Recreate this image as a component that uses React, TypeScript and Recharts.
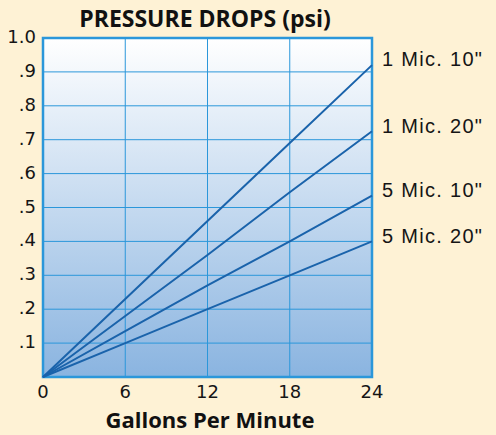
import React from "react"
import { CartesianGrid, Line, LineChart, ReferenceArea, XAxis, YAxis } from "recharts"

// gallons per minute
const gpm = [0, 6, 12, 18, 24]
// pressure drop (psi) at each gpm tick
const mic1in10 = [0, 0.23, 0.46, 0.69, 0.92]
const mic1in20 = [0, 0.18, 0.36, 0.545, 0.725]
const mic5in10 = [0, 0.135, 0.27, 0.4, 0.535]
const mic5in20 = [0, 0.1, 0.2, 0.3, 0.4]

const seriesNames = ['1 Mic. 10"', '1 Mic. 20"', '5 Mic. 10"', '5 Mic. 20"']
const yTicks = [0.1, 0.2, 0.3, 0.4, 0.5, 0.6, 0.7, 0.8, 0.9, 1.0]

const chartData = gpm.map((g, i) => ({
  gpm: g,
  a: mic1in10[i],
  b: mic1in20[i],
  c: mic5in10[i],
  d: mic5in20[i],
}))

const LINE = "#1a63ab"
const GRID = "#2b97da"
const sans = "'Liberation Sans', Arial, sans-serif"
const tickFont = "'DejaVu Sans', sans-serif"
const titleFont = "'Open Sans', sans-serif"

const yFmt = (v: number) => (v >= 1 ? "1.0" : "." + Math.round(v * 10))

function XTick(props: any) {
  const { x, y, payload } = props
  return (
    <text x={x} y={y + 8} textAnchor="middle" dominantBaseline="middle" fontFamily={tickFont} fontSize={18} fill="#151515">
      {payload.value}
    </text>
  )
}

function YTick(props: any) {
  const { x, y, payload } = props
  return (
    <text x={x + 1} y={y} textAnchor="end" dominantBaseline="middle" fontFamily={tickFont} fontSize={18} fill="#151515">
      {yFmt(payload.value)}
    </text>
  )
}

function endLabel(name: string) {
  return (props: any) => {
    if (props.index !== gpm.length - 1) return null
    return (
      <text
        x={props.x + 10}
        y={props.y - 4}
        dominantBaseline="middle"
        fontFamily={sans}
        fontSize={20}
        letterSpacing={1.3}
        fill="#151515"
      >
        {name}
      </text>
    )
  }
}

export default function App() {
  return (
    <div style={{ position: "fixed", left: 0, top: 0, width: 496, height: 435, background: "#fef2d5" }}>
      <LineChart width={496} height={435} data={chartData} margin={{ top: 38, right: 124, bottom: 28, left: 0 }}>
        <defs>
          <linearGradient id="plotBg" x1="0" y1="0" x2="0" y2="1">
            <stop offset="0%" stopColor="#ffffff" />
            <stop offset="100%" stopColor="#8ab4e0" />
          </linearGradient>
        </defs>
        <CartesianGrid stroke={GRID} strokeWidth={1} fill="url(#plotBg)" fillOpacity={1} />
        <XAxis
          dataKey="gpm"
          type="number"
          domain={[0, 24]}
          ticks={gpm}
          height={30}
          axisLine={false}
          tickLine={false}
          tick={<XTick />}
        />
        <YAxis
          type="number"
          domain={[0, 1]}
          ticks={yTicks}
          width={43}
          axisLine={false}
          tickLine={false}
          tick={<YTick />}
        />
        <Line dataKey="a" stroke={LINE} strokeWidth={2} dot={false} isAnimationActive={false} label={endLabel(seriesNames[0])} />
        <Line dataKey="b" stroke={LINE} strokeWidth={2} dot={false} isAnimationActive={false} label={endLabel(seriesNames[1])} />
        <Line dataKey="c" stroke={LINE} strokeWidth={2} dot={false} isAnimationActive={false} label={endLabel(seriesNames[2])} />
        <Line dataKey="d" stroke={LINE} strokeWidth={2} dot={false} isAnimationActive={false} label={endLabel(seriesNames[3])} />
        <ReferenceArea x1={0} x2={24} y1={0} y2={1} fill="none" stroke={GRID} strokeWidth={2.5} ifOverflow="visible" />
        <text x={205} y={27} textAnchor="middle" fontFamily={titleFont} fontWeight={700} fontSize={23} fill="#111">
          PRESSURE DROPS (psi)
        </text>
        <text x={210} y={428} textAnchor="middle" fontFamily={titleFont} fontWeight={700} fontSize={22} fill="#111">
          Gallons Per Minute
        </text>
      </LineChart>
    </div>
  )
}
